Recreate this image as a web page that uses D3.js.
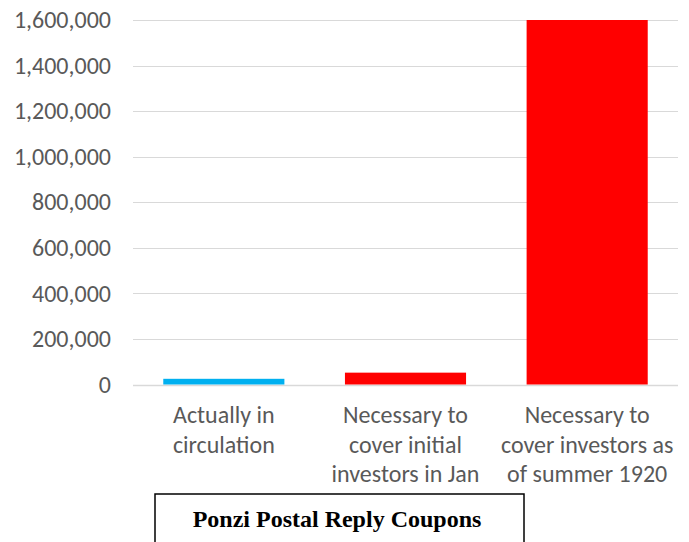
<!DOCTYPE html>
<html>
<head>
<meta charset="utf-8">
<script src="https://cdn.jsdelivr.net/npm/d3@7"></script>
<style>
  body { margin: 0; background: #fff; }
</style>
</head>
<body>
<script>
var width = 689;
var height = 542;

// Chart data.
var categories = ['circulation', 'initialJan', 'summer1920'];
var categoryLines = [
  ['Actually in', 'circulation'],
  ['Necessary to', 'cover initial', 'investors in Jan'],
  ['Necessary to', 'cover investors as', 'of summer 1920']
];
var coupons = [25000, 52000, 1600000];
var barColors = ['#00b0f0', '#ff0000', '#ff0000'];
var yTicks = [0, 200000, 400000, 600000, 800000, 1000000, 1200000, 1400000, 1600000];
var title = 'Ponzi Postal Reply Coupons';

var labelFont = 'Carlito, Calibri, "Open Sans", sans-serif';

// Create SVG canvas.
var svg = d3.select('body')
  .append('svg')
  .attr('width', width)
  .attr('height', height);

// Scales.
var x = d3.scaleBand()
  .domain(categories)
  .range([133, 678])
  .paddingInner(1/3)
  .paddingOuter(1/6);

var y = d3.scaleLinear()
  .domain([0, 1600000])
  .range([384.5, 20]);

// Gridlines.
svg.append('g')
  .selectAll('line')
  .data(yTicks)
  .enter().append('line')
  .attr('x1', 133)
  .attr('x2', 678)
  .attr('y1', function(d) { return Math.round(y(d)) + 0.5; })
  .attr('y2', function(d) { return Math.round(y(d)) + 0.5; })
  .attr('stroke', '#d9d9d9')
  .attr('stroke-width', function(d) { return d === 0 ? 1.5 : 1; });

// Y axis labels.
var yAxis = d3.axisLeft(y)
  .tickValues(yTicks)
  .tickSize(0)
  .tickPadding(0)
  .tickFormat(d3.format(','));

svg.append('g')
  .attr('transform', 'translate(111,0)')
  .call(yAxis)
  .call(function(g) { g.select('.domain').remove(); })
  .selectAll('text')
  .attr('fill', '#595959')
  .attr('font-size', 24)
  .attr('font-family', labelFont);

// Bars.
svg.append('g')
  .selectAll('rect')
  .data(coupons)
  .enter().append('rect')
  .attr('x', function(d, i) { return x(categories[i]); })
  .attr('width', x.bandwidth())
  .attr('y', function(d) { return y(d); })
  .attr('height', function(d) { return y(0) - y(d); })
  .attr('fill', function(d, i) { return barColors[i]; });

// Category labels.
var catLabel = svg.append('g')
  .selectAll('text')
  .data(categoryLines)
  .enter().append('text')
  .attr('text-anchor', 'middle')
  .attr('font-size', 24)
  .attr('font-family', labelFont)
  .attr('fill', '#595959');

catLabel.selectAll('tspan')
  .data(function(d, i) { return d.map(function(t) { return {t: t, c: categories[i]}; }); })
  .enter().append('tspan')
  .attr('x', function(d) { return x(d.c) + x.bandwidth() / 2; })
  .attr('y', function(d, j) { return 423 + j * 29.5; })
  .text(function(d) { return d.t; });

// Title box.
svg.append('rect')
  .attr('x', 155)
  .attr('y', 494)
  .attr('width', 369)
  .attr('height', 70)
  .attr('fill', 'none')
  .attr('stroke', '#000')
  .attr('stroke-width', 1.5);

svg.append('text')
  .attr('x', 337)
  .attr('y', 527)
  .attr('text-anchor', 'middle')
  .attr('font-family', '"Liberation Serif", "Times New Roman", serif')
  .attr('font-weight', 'bold')
  .attr('font-size', 24)
  .attr('fill', '#000')
  .text(title);
</script>
</body>
</html>
